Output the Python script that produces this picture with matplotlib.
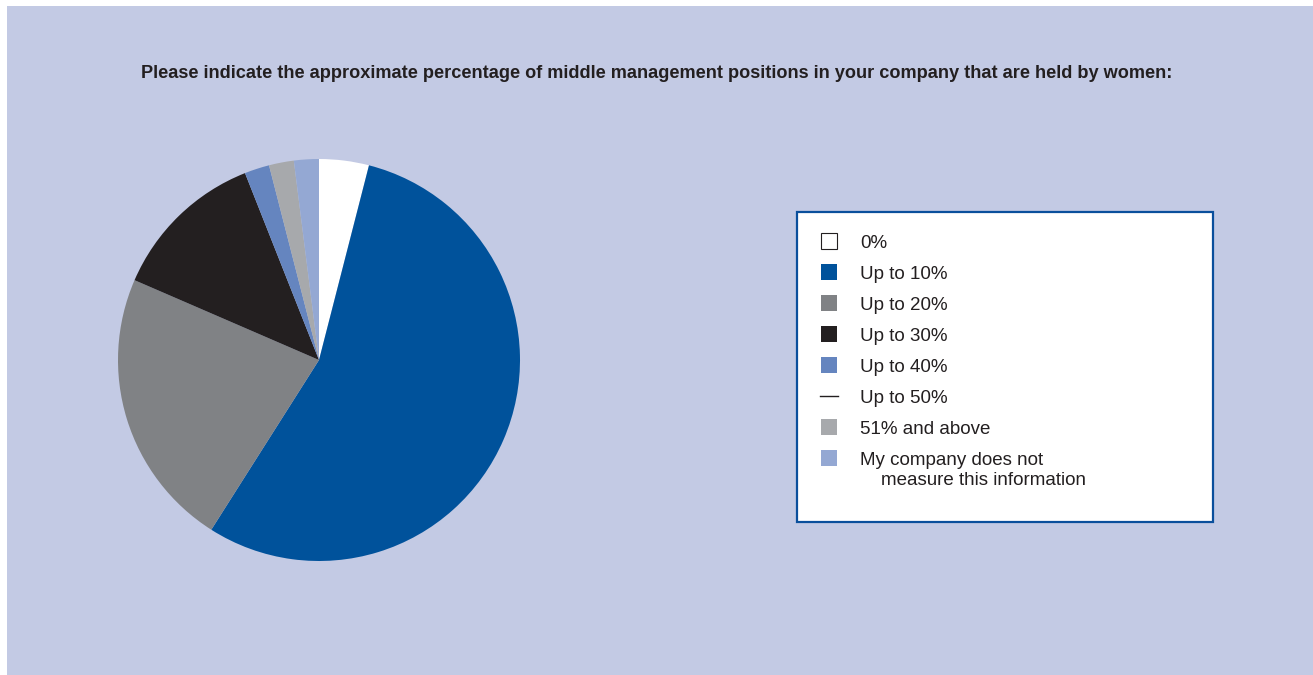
import matplotlib.pyplot as plt
from matplotlib.patches import Rectangle

W, H = 1313, 675

labels = ['0%', 'Up to 10%', 'Up to 20%', 'Up to 30%', 'Up to 40%',
          'Up to 50%', '51% and above',
          'My company does not\n    measure this information']
shares = [4.0, 55.0, 22.5, 12.5, 2.0, 0.0, 2.0, 2.0]
colors = ['#ffffff', '#00529b', '#808285', '#231f20', '#6585bf',
          '#231f20', '#a7a9ac', '#94a8d3']

title = ('Please indicate the approximate percentage of middle management '
         'positions in your company that are held by women:')

bg = '#c3cae4'
plt.rcParams['font.family'] = ['Liberation Sans', 'DejaVu Sans']

fig = plt.figure(figsize=(W / 100, H / 100), dpi=100)
fig.patch.set_facecolor('white')

# coloured panel, leaving a thin white strip on the left and top
fig.add_artist(Rectangle((7 / W, 0), 1 - 7 / W, 1 - 6 / H,
                         transform=fig.transFigure, facecolor=bg,
                         edgecolor='none', zorder=0))

fig.text(657 / W, 1 - 74 / H, title, ha='center', va='center',
         fontsize=13.1, fontweight='bold', color='#231f20')

# pie
cx, cy, r = 319, 360, 201
ax = fig.add_axes([(cx - r) / W, (H - cy - r) / H, 2 * r / W, 2 * r / H])
ax.pie(shares, colors=colors, startangle=90, counterclock=False,
       radius=1, wedgeprops=dict(linewidth=0))
ax.set_xlim(-1, 1)
ax.set_ylim(-1, 1)
ax.set_aspect('auto')
ax.axis('off')

# legend box
x0, y0, x1, y1 = 797, 212, 1213, 522
fig.add_artist(Rectangle((x0 / W, 1 - y1 / H), (x1 - x0) / W, (y1 - y0) / H,
                         transform=fig.transFigure, facecolor='white',
                         edgecolor='#0a4f9c', linewidth=1.6, zorder=2))

sq = 16
for i, (lab, col, val) in enumerate(zip(labels, colors, shares)):
    yc = 241 + 31 * i
    if val == 0 and i > 0:
        fig.add_artist(plt.Line2D([820 / W, 838 / W], [1 - yc / H, 1 - yc / H],
                                  transform=fig.transFigure, color=col,
                                  linewidth=1, zorder=3))
    else:
        fig.add_artist(Rectangle((821 / W, 1 - (yc + sq / 2) / H), sq / W, sq / H,
                                 transform=fig.transFigure, facecolor=col,
                                 edgecolor='#231f20' if col == '#ffffff' else 'none',
                                 linewidth=0.8, zorder=3))
    fig.text(860 / W, 1 - (yc - 6) / H, lab, ha='left', va='top',
             fontsize=13.5, color='#231f20', linespacing=1.22, zorder=4)

fig.savefig('out.png', dpi=100, facecolor=fig.get_facecolor())
